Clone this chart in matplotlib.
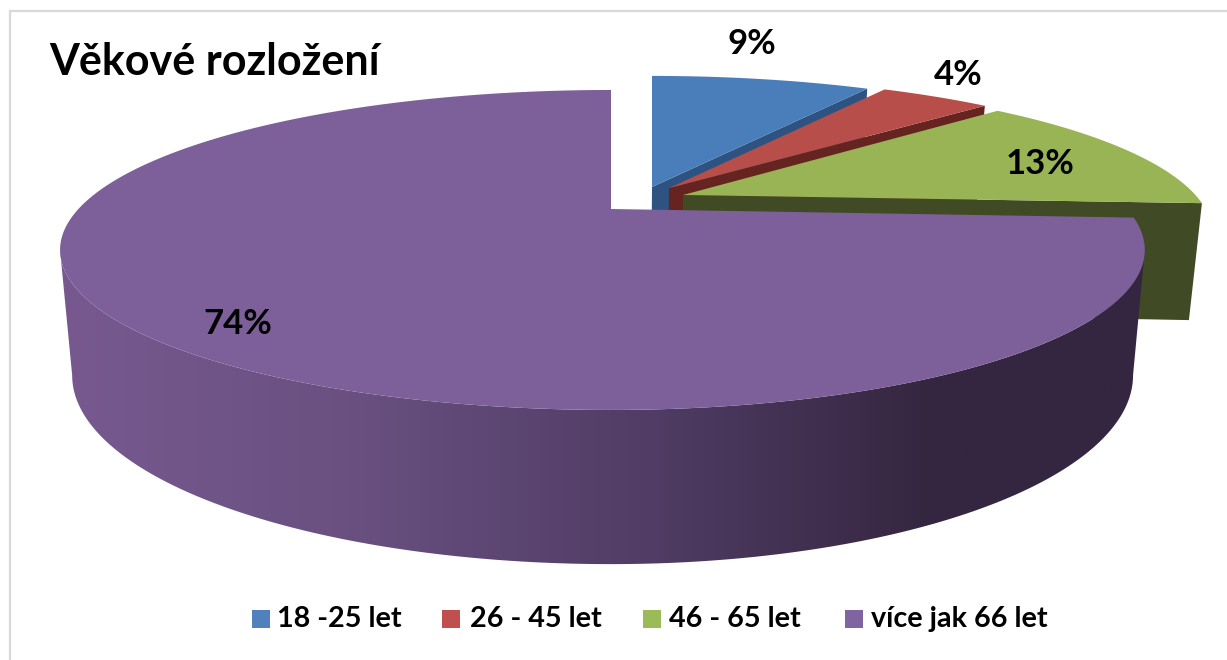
import numpy as np
import matplotlib
matplotlib.use('Agg')
import matplotlib.pyplot as plt
from matplotlib.colors import LinearSegmentedColormap
from matplotlib.patches import Polygon, Rectangle

# data (slice sizes, labels as printed)
categories = ['18 -25 let', '26 - 45 let', '46 - 65 let', 'více jak 66 let']
values = [8.5, 4.3, 13.1, 74.1]
value_labels = ['9%', '4%', '13%', '74%']
title = 'Věkové rozložení'

# colours
top_colors = ['#4a7ebb', '#b84e49', '#98b455', '#7d5f9a']
face_colors = ['#2f5380', '#662421', '#404a24', '#3a2a48']
legend_colors = ['#4f81bd', '#c0504d', '#9bbb59', '#8064a2']

# perspective of the disc, in pixels
cx, cy = 611, 209
rx, ry = 532.6, 149.5
rx_right = [532.6, 532.6, 525, 516]
k = 0.256
depth = 118
shrink = 0.022
# how far each slice is pulled out of the pie: px to the right, radii to the back
offsets = [(41, 0.153), (58, 0.145), (72, 0.096), (0, 0)]

label_pos = [(752, 44), (958, 75), (1040, 164), (238, 324)]
swatch_x = [252, 442, 643, 845]
legend_x = [277, 470, 669, 871]


def project(u, v, dx=0, z=0.0, r_right=rx):
    w = 1 + k * v
    scale = 1 - shrink * z
    r = np.where(u > 0, r_right, rx)
    return cx + scale * (dx + r * u / w), cy - ry * scale * v / w + depth * z / w


def rim(off, a0, a1, z=0.0, r_right=rx):
    a = np.radians(np.linspace(a0, a1, 200))
    x, y = project(np.sin(a), off[1] + np.cos(a), off[0], z, r_right)
    return np.column_stack([x, y])


fig = plt.figure(figsize=(12.27, 6.6), dpi=100)
ax = fig.add_axes([0, 0, 1, 1])

# chart frame, only top and left fall inside the picture
ax.plot([9.5, 9.5, 1227], [660, 11, 11], color='#d9d9d9', lw=1.6, solid_joinstyle='miter')

angles = np.concatenate([[0], np.cumsum(values) / np.sum(values) * 360])

# slices, back to front
for i in range(3):
    off = offsets[i]
    a0, a1 = angles[i], angles[i + 1]
    end = rim(off, a1, a1, 0, rx_right[i])[0]
    end_low = rim(off, a1, a1, 1, rx_right[i])[0]
    apex = project(0, off[1], off[0], 0)
    apex_low = project(0, off[1], off[0], 1)
    ax.add_patch(Polygon([apex, end, end_low, apex_low], fc=face_colors[i], ec='none', zorder=2 + i))
    top = np.vstack([[apex], rim(off, a0, a1, 0, rx_right[i])])
    ax.add_patch(Polygon(top, fc=top_colors[i], ec='none', zorder=2 + i))

# big slice: wall with the dark gradient, then the top
off = offsets[3]
a0, a1 = angles[3], angles[4]
wall = Polygon(np.vstack([rim(off, 104.8, 255.2, 0, rx_right[3]),
                          rim(off, 104.8, 255.2, 1, rx_right[3])[::-1]]),
               fc='none', ec='none', transform=ax.transData)
ax.add_patch(wall)
wall_cmap = LinearSegmentedColormap.from_list(
    'wall', [(0, '#77598f'), (0.25, '#6a5182'), (0.55, '#503c64'), (0.8, '#352640'), (1, '#342540')])
im = ax.imshow(np.linspace(0, 1, 400).reshape(1, -1), cmap=wall_cmap, aspect='auto',
               extent=(60, 1146, 570, 200), zorder=6)
im.set_clip_path(wall)
top = np.vstack([[project(0, off[1], off[0], 0)], rim(off, a0, a1, 0, rx_right[3])])
ax.add_patch(Polygon(top, fc=top_colors[3], ec='none', zorder=7))

font = 'Lato'
for (x, y), s in zip(label_pos, value_labels):
    ax.text(x, y, s, fontsize=25, fontweight='bold', family=font, ha='center', va='center', zorder=10)
ax.text(49, 62, title, fontsize=31, fontweight='bold', family=font, ha='left', va='center', zorder=10)

for sx, tx, c, s in zip(swatch_x, legend_x, legend_colors, categories):
    ax.add_patch(Rectangle((sx, 610), 18, 18, fc=c, ec='none', zorder=10))
    ax.text(tx, 619, s, fontsize=20.7, fontweight='bold', family=font, ha='left', va='center', zorder=10)

ax.set_xlim(0, 1227)
ax.set_ylim(660, 0)
ax.axis('off')
fig.savefig('out.png', dpi=100, facecolor='white')
